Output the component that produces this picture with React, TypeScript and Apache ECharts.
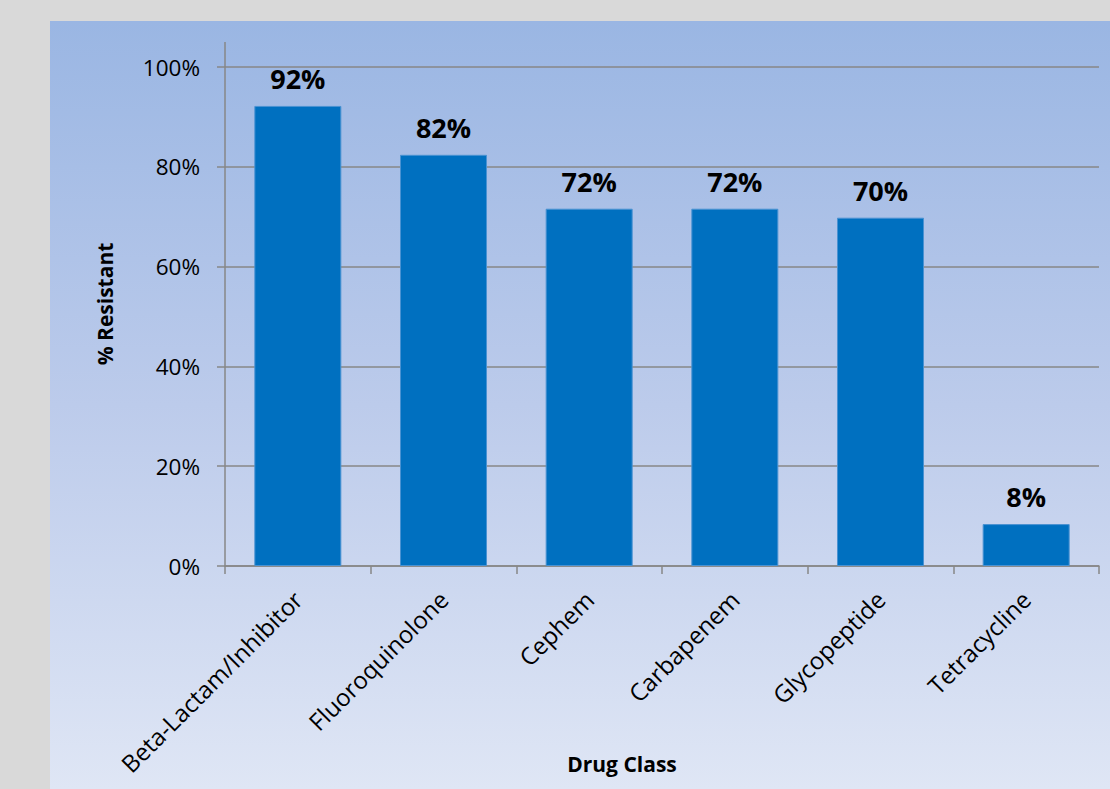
import React, { useEffect, useRef } from "react";
import * as echarts from "echarts";

const categories = [
  "Beta-Lactam/Inhibitor",
  "Fluoroquinolone",
  "Cephem",
  "Carbapenem",
  "Glycopeptide",
  "Tetracycline",
];
const resistant = [0.922, 0.824, 0.716, 0.716, 0.698, 0.084];
const yTicks = [0, 0.2, 0.4, 0.6, 0.8, 1.0];
const yTitle = "% Resistant";
const xTitle = "Drug Class";

const FONT = "'Open Sans', 'Liberation Sans', sans-serif";
const AXIS_GRAY = "#878787";

export default function App() {
  const ref = useRef<HTMLDivElement>(null);
  useEffect(() => {
    if (!ref.current) return;
    const chart = echarts.init(ref.current, null, { renderer: "svg" });
    chart.setOption({
      animation: false,
      backgroundColor: "#d9d9d9",
      graphic: [
        {
          type: "rect",
          z: -10,
          silent: true,
          shape: { x: 50, y: 21, width: 1060, height: 768 },
          style: {
            fill: new echarts.graphic.LinearGradient(0, 0, 0, 1, [
              { offset: 0, color: "#9ab6e3" },
              { offset: 0.5, color: "#bccbeb" },
              { offset: 1, color: "#dfe6f5" },
            ]),
          },
        },
        {
          type: "line",
          z: 5,
          silent: true,
          shape: { x1: 225, y1: 42, x2: 225, y2: 67 },
          style: { stroke: AXIS_GRAY, lineWidth: 1.5 },
        },
        {
          type: "text",
          x: 105,
          y: 304,
          rotation: Math.PI / 2,
          style: {
            text: yTitle,
            font: `bold 21px ${FONT}`,
            fill: "#000",
            align: "center",
            verticalAlign: "middle",
          },
        },
        {
          type: "text",
          x: 622,
          y: 764,
          style: {
            text: xTitle,
            font: `bold 21px ${FONT}`,
            fill: "#000",
            align: "center",
            verticalAlign: "middle",
          },
        },
      ],
      grid: { left: 225, right: 11, top: 67, bottom: 223 },
      xAxis: {
        type: "category",
        data: categories,
        boundaryGap: true,
        axisLine: { lineStyle: { color: AXIS_GRAY, width: 1.5 } },
        axisTick: { show: true, length: 8, lineStyle: { color: AXIS_GRAY, width: 1.5 } },
        axisLabel: {
          rotate: 45,
          margin: 29,
          color: "#000",
          fontSize: 24,
          fontFamily: FONT,
          interval: 0,
        },
      },
      yAxis: {
        type: "value",
        min: 0,
        max: 1,
        interval: 0.2,
        axisLine: { show: true, lineStyle: { color: AXIS_GRAY, width: 1.5 } },
        axisTick: { show: true, length: 8, lineStyle: { color: AXIS_GRAY, width: 1.5 } },
        splitLine: { show: true, lineStyle: { color: AXIS_GRAY, width: 1.5 } },
        axisLabel: {
          margin: 25,
          color: "#000",
          fontSize: 22.5,
          fontFamily: FONT,
          formatter: (v: number) =>
            yTicks.some((t) => Math.abs(t - v) < 1e-9) ? `${Math.round(v * 100)}%` : "",
        },
      },
      series: [
        {
          type: "bar",
          data: resistant,
          barWidth: 87,
          itemStyle: { color: "#0070c0", borderColor: "#4a92d2", borderWidth: 1 },
          label: {
            show: true,
            position: "top",
            distance: 14,
            color: "#000",
            fontSize: 27,
            fontWeight: "bold",
            fontFamily: FONT,
            formatter: (p: any) => `${Math.round(p.value * 100)}%`,
          },
        },
      ],
    });
    return () => chart.dispose();
  }, []);
  return (
    <div
      ref={ref}
      style={{ position: "fixed", left: 0, top: 0, width: 1110, height: 789 }}
    />
  );
}
